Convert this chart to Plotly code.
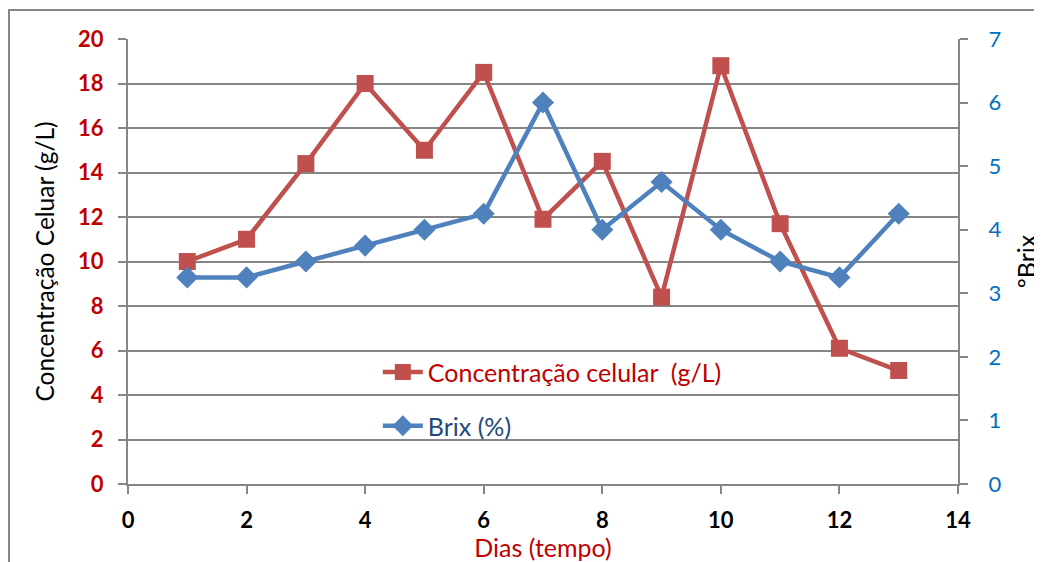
import plotly.graph_objects as go

dias = [1, 2, 3, 4, 5, 6, 7, 8, 9, 10, 11, 12, 13]
concentracao = [10.0, 11.0, 14.4, 18.0, 15.0, 18.5, 11.9, 14.5, 8.4, 18.8, 11.7, 6.1, 5.1]
brix = [3.25, 3.25, 3.5, 3.75, 4.0, 4.25, 6.0, 4.0, 4.75, 4.0, 3.5, 3.25, 4.25]

FONT = "Lato"
RED = "#C0504D"
BLUE = "#4F81BD"
GRAY = "#868686"

# page body has an 8px margin: figure is placed at (8, 8)
OFF = 8
W, H = 1042 - OFF, 562 - OFF
L, T = 128 - OFF, 39 - OFF
PW, PH = 830, 445
R, B = W - L - PW, H - T - PH

fig = go.Figure()
fig.add_trace(go.Scatter(
    x=dias, y=concentracao, mode="lines+markers",
    name="<span style='color:#C00000'>Concentração celular  (g/L)</span>",
    line=dict(color=RED, width=4.5),
    marker=dict(symbol="square", size=17, color=RED),
    legend="legend", showlegend=True,
))
fig.add_trace(go.Scatter(
    x=dias, y=brix, mode="lines+markers", yaxis="y2",
    name="<span style='color:#1F497D'>Brix (%)</span>",
    line=dict(color=BLUE, width=4.5),
    marker=dict(symbol="diamond", size=17, color=BLUE),
    legend="legend2", showlegend=True,
))

fig.update_layout(
    width=W, height=H,
    margin=dict(l=L, r=R, t=T, b=B, autoexpand=False),
    paper_bgcolor="white", plot_bgcolor="white",
    font=dict(family=FONT, size=22, color="black"),
    showlegend=True,
    xaxis=dict(
        range=[0, 14], dtick=2, tick0=0, automargin=False,
        showgrid=False, zeroline=False,
        showline=True, linecolor=GRAY, linewidth=2,
        ticks="outside", ticklen=8, tickcolor=GRAY, tickwidth=2,
        ticklabelstandoff=8,
        tickfont=dict(family=FONT, size=22, color="black", weight="bold"),
        title=dict(text="Dias (tempo)", font=dict(family=FONT, size=25, color="#C00000"), standoff=8),
    ),
    yaxis=dict(
        range=[0, 20], dtick=2, tick0=0, automargin=False,
        showgrid=True, gridcolor=GRAY, gridwidth=1.5,
        zeroline=False,
        showline=True, linecolor=GRAY, linewidth=2,
        ticks="outside", ticklen=8, tickcolor=GRAY, tickwidth=2,
        ticklabelstandoff=10,
        tickfont=dict(family=FONT, size=22, color="#C00000", weight="bold"),
        title=dict(text="Concentração Celuar (g/L)", font=dict(family=FONT, size=24.5, color="black"), standoff=16),
    ),
    yaxis2=dict(
        range=[0, 7], dtick=1, tick0=0, automargin=False,
        overlaying="y", side="right",
        showgrid=False, zeroline=False,
        showline=True, linecolor=GRAY, linewidth=2,
        ticks="outside", ticklen=8, tickcolor=GRAY, tickwidth=2,
        ticklabelstandoff=16,
        tickfont=dict(family=FONT, size=22, color="#0070C0"),
        title=dict(text="ºBrix", font=dict(family=FONT, size=25, color="black"), standoff=18),
    ),
    legend=dict(
        x=0.301, y=0.303, xanchor="left", yanchor="top",
        bgcolor="rgba(0,0,0,0)", font=dict(family=FONT, size=25),
        itemwidth=40,
    ),
    legend2=dict(
        x=0.301, y=0.182, xanchor="left", yanchor="top",
        bgcolor="rgba(0,0,0,0)", font=dict(family=FONT, size=25),
        itemwidth=40,
    ),
    shapes=[dict(
        type="rect", xref="paper", yref="paper",
        x0=(9 - 128) / PW, x1=(1046 - 128) / PW,
        y0=(484 - 570) / PH, y1=1 + (39 - 10) / PH,
        line=dict(color=GRAY, width=2), fillcolor="rgba(0,0,0,0)",
        layer="below",
    )],
)

fig.write_html("out.html")
